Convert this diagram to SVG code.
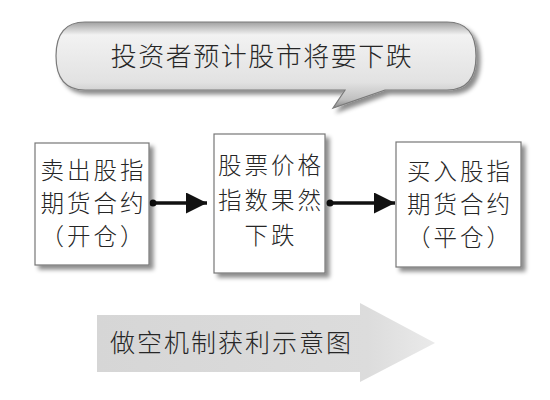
<svg xmlns="http://www.w3.org/2000/svg" width="550" height="400" viewBox="0 0 550 400">
<defs>
<style>
.t{font-family:"Noto Sans CJK SC","Noto Sans",sans-serif;fill:#262626;font-weight:300;}
.box{fill:#fff;stroke:#777;stroke-width:1.2;filter:url(#sh);}
.b{font-size:23.5px;letter-spacing:3px;}
.conn{stroke:#111;stroke-width:3.5;fill:none;}
</style>
<filter id="sh" x="-20%" y="-20%" width="150%" height="150%">
<feDropShadow dx="4" dy="4" stdDeviation="2" flood-color="#000" flood-opacity="0.45"/>
</filter>
<linearGradient id="bub" x1="0" y1="0" x2="0" y2="1">
<stop offset="0" stop-color="#a0a0a0"/>
<stop offset="0.15" stop-color="#f2f2f2"/>
<stop offset="0.7" stop-color="#e2e2e2"/>
<stop offset="0.9" stop-color="#c0c0c0"/>
<stop offset="1" stop-color="#888"/>
</linearGradient>
<linearGradient id="big" x1="0" y1="0" x2="1" y2="0">
<stop offset="0" stop-color="#d6d6d6"/>
<stop offset="0.8" stop-color="#dcdcdc"/>
<stop offset="1" stop-color="#eaeaea"/>
</linearGradient>
<marker id="ah" viewBox="0 0 10 10" refX="10" refY="5" markerWidth="6" markerHeight="6" orient="auto" markerUnits="strokeWidth">
<path d="M0,0 L10,5 L0,10 z" fill="#111"/>
</marker>
</defs>
<rect width="550" height="400" fill="#fff"/>

<g id="callout">
<path d="M85,22 H447 Q476,22 476,56 Q476,90 447,90 H385 L333,108 L345,90 H85 Q56,90 56,56 Q56,22 85,22 Z" fill="url(#bub)" stroke="#7a7a7a" stroke-width="1.2" filter="url(#sh)"/>
<text class="t" x="262" y="66" font-size="26" letter-spacing="1.5" text-anchor="middle">投资者预计股市将要下跌</text>
</g>

<g id="connectors">
<circle cx="153" cy="203" r="3.5" fill="#111"/>
<line class="conn" x1="153" y1="203" x2="207" y2="203" marker-end="url(#ah)"/>
<circle cx="330" cy="203" r="3.5" fill="#111"/>
<line class="conn" x1="330" y1="203" x2="395" y2="203" marker-end="url(#ah)"/>
</g>

<g id="n1">
<rect class="box" x="35" y="143" width="114" height="122"/>
<text class="t b" x="93.5" y="179" text-anchor="middle">卖出股指</text>
<text class="t b" x="93.5" y="212" text-anchor="middle">期货合约</text>
<text class="t b" x="93.5" y="245" text-anchor="middle">（开仓）</text>
</g>

<g id="n2">
<rect class="box" x="214" y="134" width="111" height="139"/>
<text class="t b" x="271" y="174" text-anchor="middle">股票价格</text>
<text class="t b" x="271" y="209" text-anchor="middle">指数果然</text>
<text class="t b" x="271" y="244" text-anchor="middle">下跌</text>
</g>

<g id="n3">
<rect class="box" x="396" y="142" width="125" height="125"/>
<text class="t b" x="460" y="180" text-anchor="middle">买入股指</text>
<text class="t b" x="460" y="213" text-anchor="middle">期货合约</text>
<text class="t b" x="460" y="246" text-anchor="middle">（平仓）</text>
</g>

<g id="bigarrow">
<path d="M97,315 H360 V303 L435,343 L360,382 V372 H97 Z" fill="url(#big)"/>
<text class="t" x="110" y="352" font-size="25" letter-spacing="2">做空机制获利示意图</text>
</g>
</svg>
